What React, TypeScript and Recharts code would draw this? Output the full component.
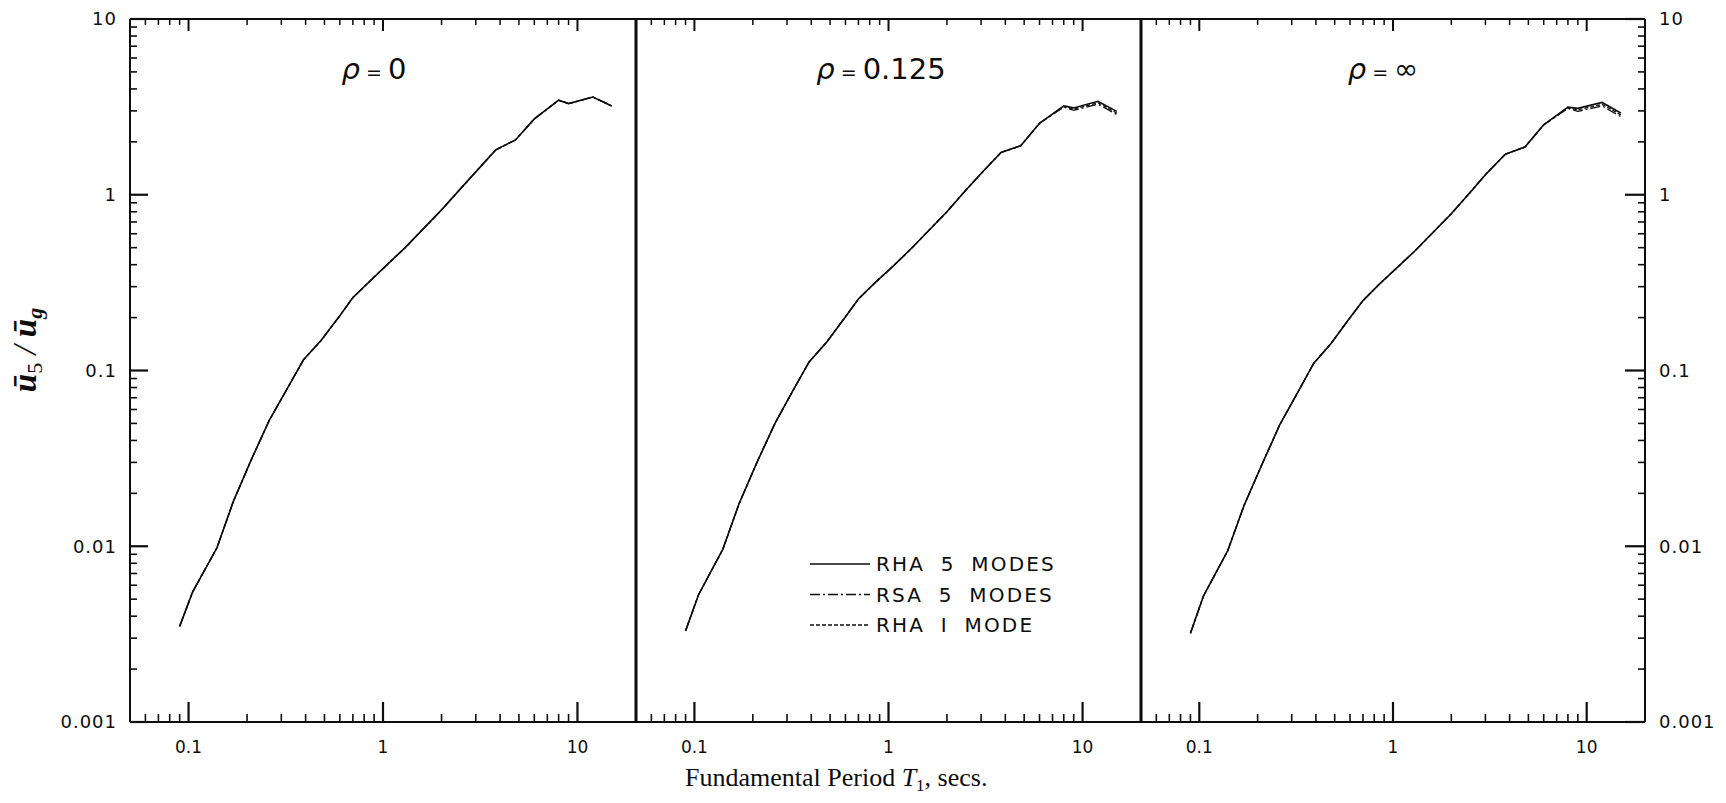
import type { ReactElement } from "react";
import { Line, LineChart, XAxis, YAxis } from "recharts";

// fundamental period T1 (secs) at which the curves were read
const periods = [
  0.09, 0.105, 0.14, 0.17, 0.21, 0.26, 0.32, 0.39, 0.48, 0.59, 0.7, 0.85, 1.05,
  1.3, 2.0, 2.5, 3.0, 3.8, 4.8, 6.0, 8.0, 9.0, 12.0, 15.0,
];

// rho = 0 (all three methods coincide)
const rho0Rha5 = [
  0.0035, 0.0055, 0.0098, 0.018, 0.031, 0.052, 0.078, 0.115, 0.148, 0.2, 0.26,
  0.32, 0.4, 0.5, 0.82, 1.08, 1.35, 1.8, 2.05, 2.7, 3.45, 3.3, 3.6, 3.2,
];

// rho = 0.125
const rho125Rha5 = [
  0.0033, 0.0053, 0.0096, 0.0175, 0.03, 0.05, 0.076, 0.112, 0.145, 0.197,
  0.255, 0.315, 0.39, 0.49, 0.8, 1.06, 1.32, 1.74, 1.9, 2.55, 3.2, 3.12, 3.4,
  2.98,
];
const rho125Rsa5 = [
  0.0033, 0.0053, 0.0096, 0.0175, 0.03, 0.05, 0.076, 0.112, 0.145, 0.197,
  0.255, 0.315, 0.39, 0.49, 0.8, 1.06, 1.32, 1.74, 1.9, 2.55, 3.15, 3.02, 3.28,
  2.86,
];
const rho125Rha1 = [
  0.0033, 0.0053, 0.0096, 0.0175, 0.03, 0.05, 0.076, 0.112, 0.145, 0.197,
  0.255, 0.315, 0.39, 0.49, 0.8, 1.06, 1.32, 1.74, 1.9, 2.55, 3.18, 3.07, 3.34,
  2.92,
];

// rho = infinity
const rhoInfRha5 = [
  0.0032, 0.0052, 0.0094, 0.017, 0.029, 0.049, 0.074, 0.11, 0.143, 0.195, 0.25,
  0.31, 0.385, 0.48, 0.78, 1.03, 1.3, 1.7, 1.87, 2.5, 3.15, 3.1, 3.35, 2.92,
];
const rhoInfRsa5 = [
  0.0032, 0.0052, 0.0094, 0.017, 0.029, 0.049, 0.074, 0.11, 0.143, 0.195, 0.25,
  0.31, 0.385, 0.48, 0.78, 1.03, 1.3, 1.7, 1.87, 2.5, 3.1, 2.98, 3.2, 2.78,
];
const rhoInfRha1 = [
  0.0032, 0.0052, 0.0094, 0.017, 0.029, 0.049, 0.074, 0.11, 0.143, 0.195, 0.25,
  0.31, 0.385, 0.48, 0.78, 1.03, 1.3, 1.7, 1.87, 2.5, 3.13, 3.04, 3.27, 2.85,
];

const xTicks = [
  0.06, 0.07, 0.08, 0.09, 0.1, 0.2, 0.3, 0.4, 0.5, 0.6, 0.7, 0.8, 0.9, 1, 2, 3,
  4, 5, 6, 7, 8, 9, 10,
];
const xMajor = [0.1, 1, 10];

const yTicks = [
  0.001, 0.002, 0.003, 0.004, 0.005, 0.006, 0.007, 0.008, 0.009, 0.01, 0.02,
  0.03, 0.04, 0.05, 0.06, 0.07, 0.08, 0.09, 0.1, 0.2, 0.3, 0.4, 0.5, 0.6, 0.7,
  0.8, 0.9, 1, 2, 3, 4, 5, 6, 7, 8, 9, 10,
];
const yMajor = [0.001, 0.01, 0.1, 1, 10];

const legendItems = [
  { label: "RHA 5 MODES", dash: undefined },
  { label: "RSA 5 MODES", dash: "10 3 2 3" },
  { label: "RHA I MODE", dash: "4 2" },
];

const ink = "#0d0d0d";
const letterFont = "'DejaVu Sans', sans-serif";
const serifFont = "'Liberation Serif', 'DejaVu Serif', serif";

const PLOT_TOP = 19;
const PLOT_BOTTOM = 722;
const HEIGHT = 803;

const rows = (a: number[], b: number[], c: number[]) =>
  periods.map((t, i) => ({ t, rha5: a[i], rsa5: b[i], rha1: c[i] }));

const isMajor = (v: number, majors: number[]) =>
  majors.some((m) => Math.abs(m - v) < m * 1e-6);

function BottomTick(props: any) {
  const { x, y, payload } = props;
  const major = isMajor(payload.value, xMajor);
  return (
    <g>
      <line
        x1={x}
        x2={x}
        y1={y}
        y2={y - (major ? 20 : 8)}
        stroke={ink}
        strokeWidth={major ? 2.2 : 1.6}
      />
      {major && (
        <text
          x={x}
          y={y + 31}
          textAnchor="middle"
          fontFamily={letterFont}
          fontSize={17}
          fill={ink}
        >
          {String(payload.value)}
        </text>
      )}
    </g>
  );
}

function TopTick(props: any) {
  const { x, y, payload } = props;
  const major = isMajor(payload.value, xMajor);
  return (
    <line
      x1={x}
      x2={x}
      y1={y}
      y2={y + (major ? 12 : 6)}
      stroke={ink}
      strokeWidth={major ? 2 : 1.5}
    />
  );
}

function LeftTick(props: any) {
  const { x, y, payload } = props;
  const major = isMajor(payload.value, yMajor);
  return (
    <g>
      <line
        x1={x}
        x2={x + (major ? 18 : 7)}
        y1={y}
        y2={y}
        stroke={ink}
        strokeWidth={major ? 2.2 : 1.6}
      />
      {major && (
        <text
          x={x - 13}
          y={y}
          dy="0.36em"
          textAnchor="end"
          fontFamily={letterFont}
          fontSize={18}
          letterSpacing={1}
          fill={ink}
        >
          {String(payload.value)}
        </text>
      )}
    </g>
  );
}

function RightTick(props: any) {
  const { x, y, payload } = props;
  const major = isMajor(payload.value, yMajor);
  return (
    <g>
      <line
        x1={x}
        x2={x - (major ? 20 : 7)}
        y1={y}
        y2={y}
        stroke={ink}
        strokeWidth={major ? 2.2 : 1.6}
      />
      {major && (
        <text
          x={x + 14}
          y={y}
          dy="0.36em"
          textAnchor="start"
          fontFamily={letterFont}
          fontSize={18}
          letterSpacing={1}
          fill={ink}
        >
          {String(payload.value)}
        </text>
      )}
    </g>
  );
}

type PanelProps = {
  data: ReturnType<typeof rows>;
  left: number;
  plotLeft: number;
  plotRight: number;
  outerLeft?: boolean;
  outerRight?: boolean;
};

function Panel({
  data,
  left,
  plotLeft,
  plotRight,
  outerLeft,
  outerRight,
}: PanelProps): ReactElement {
  const width = outerRight ? 1726 - left : plotRight - left + 4;
  // each axis takes 1px of room, so margins are 1px short of the plot edge
  const marginLeft = plotLeft - left - 1;
  const marginRight = width - (plotRight - left) - 1;
  return (
    <div style={{ position: "absolute", left, top: 0 }}>
      <LineChart
        width={width}
        height={HEIGHT}
        data={data}
        margin={{
          top: PLOT_TOP - 1,
          bottom: HEIGHT - PLOT_BOTTOM - 1,
          left: marginLeft,
          right: marginRight,
        }}
      >
        <XAxis
          dataKey="t"
          type="number"
          scale="log"
          domain={[0.05, 20]}
          allowDataOverflow
          ticks={xTicks}
          interval={0}
          height={1}
          tickSize={0}
          tickMargin={0}
          tickLine={false}
          axisLine={{ stroke: ink, strokeWidth: 2 }}
          tick={(p: any) => <BottomTick {...p} />}
        />
        <XAxis
          xAxisId="top"
          dataKey="t"
          orientation="top"
          type="number"
          scale="log"
          domain={[0.05, 20]}
          allowDataOverflow
          ticks={xTicks}
          interval={0}
          height={1}
          tickSize={0}
          tickMargin={0}
          tickLine={false}
          axisLine={{ stroke: ink, strokeWidth: 2 }}
          tick={(p: any) => <TopTick {...p} />}
        />
        <YAxis
          type="number"
          scale="log"
          domain={[0.001, 10]}
          allowDataOverflow
          ticks={yTicks}
          interval={0}
          width={1}
          tickSize={0}
          tickMargin={0}
          tickLine={false}
          axisLine={{ stroke: ink, strokeWidth: outerLeft ? 2 : 2.6 }}
          tick={outerLeft ? (p: any) => <LeftTick {...p} /> : false}
        />
        <YAxis
          yAxisId="right"
          orientation="right"
          type="number"
          scale="log"
          domain={[0.001, 10]}
          allowDataOverflow
          ticks={yTicks}
          interval={0}
          width={1}
          tickSize={0}
          tickMargin={0}
          tickLine={false}
          axisLine={{ stroke: ink, strokeWidth: outerRight ? 2 : 2.6 }}
          tick={outerRight ? (p: any) => <RightTick {...p} /> : false}
        />
        {/* the twin axes share domain and range, so these sit on the same scale */}
        <Line
          xAxisId="top"
          yAxisId="right"
          type="linear"
          dataKey="rha1"
          stroke={ink}
          strokeWidth={1.3}
          strokeDasharray="4 2"
          dot={false}
          isAnimationActive={false}
        />
        <Line
          xAxisId="top"
          yAxisId="right"
          type="linear"
          dataKey="rsa5"
          stroke={ink}
          strokeWidth={1.3}
          strokeDasharray="10 3 2 3"
          dot={false}
          isAnimationActive={false}
        />
        <Line
          type="linear"
          dataKey="rha5"
          stroke={ink}
          strokeWidth={1.6}
          dot={false}
          isAnimationActive={false}
        />
      </LineChart>
    </div>
  );
}

const panelTitles = [
  { x: 374, rest: "0" },
  { x: 881, rest: "0.125" },
  { x: 1383, rest: "∞" },
];

export default function App() {
  return (
    <div
      style={{
        position: "absolute",
        left: 0,
        top: 0,
        width: 1726,
        height: HEIGHT,
        background: "#fff",
        overflow: "hidden",
      }}
    >
      <Panel
        data={rows(rho0Rha5, rho0Rha5, rho0Rha5)}
        left={0}
        plotLeft={130}
        plotRight={636}
        outerLeft
      />
      <Panel
        data={rows(rho125Rha5, rho125Rsa5, rho125Rha1)}
        left={632}
        plotLeft={636}
        plotRight={1141}
      />
      <Panel
        data={rows(rhoInfRha5, rhoInfRsa5, rhoInfRha1)}
        left={1137}
        plotLeft={1141}
        plotRight={1645}
        outerRight
      />
      <svg
        width={1726}
        height={HEIGHT}
        style={{ position: "absolute", left: 0, top: 0, pointerEvents: "none" }}
      >
        {panelTitles.map((p) => (
          <text
            key={p.rest}
            x={p.x}
            y={79}
            textAnchor="middle"
            fontFamily={letterFont}
            fontSize={29}
            fill={ink}
          >
            <tspan fontStyle="italic">ρ</tspan>
            <tspan fontSize={19} dx={6}>
              =
            </tspan>
            <tspan dx={6}>{p.rest}</tspan>
          </text>
        ))}

        {legendItems.map((item, i) => (
          <g key={item.label}>
            <line
              x1={810}
              x2={870}
              y1={564 + i * 30.5}
              y2={564 + i * 30.5}
              stroke={ink}
              strokeWidth={1.3}
              strokeDasharray={item.dash}
            />
            <text
              x={876}
              y={564 + i * 30.5}
              dy="0.36em"
              fontFamily={letterFont}
              fontSize={20}
              letterSpacing={2.2}
              wordSpacing={7}
              fill={ink}
            >
              {item.label}
            </text>
          </g>
        ))}

        <text
          x={685}
          y={786}
          fontFamily={serifFont}
          fontSize={26}
          fill={ink}
        >
          Fundamental Period{" "}
          <tspan fontStyle="italic">T</tspan>
          <tspan fontSize={17} dy={5}>
            1
          </tspan>
          <tspan dy={-5}>, secs.</tspan>
        </text>

        <text
          transform="translate(36 350) rotate(-90)"
          textAnchor="middle"
          fontFamily={serifFont}
          fontSize={33}
          fontStyle="italic"
          fontWeight="bold"
          fill={ink}
        >
          <tspan>ū</tspan>
          <tspan fontSize={22} dy={6} fontStyle="normal" fontWeight="normal">
            5
          </tspan>
          <tspan dy={-6} fontWeight="normal">
            {" / "}
          </tspan>
          <tspan>ū</tspan>
          <tspan fontSize={22} dy={6}>
            g
          </tspan>
        </text>
      </svg>
    </div>
  );
}
